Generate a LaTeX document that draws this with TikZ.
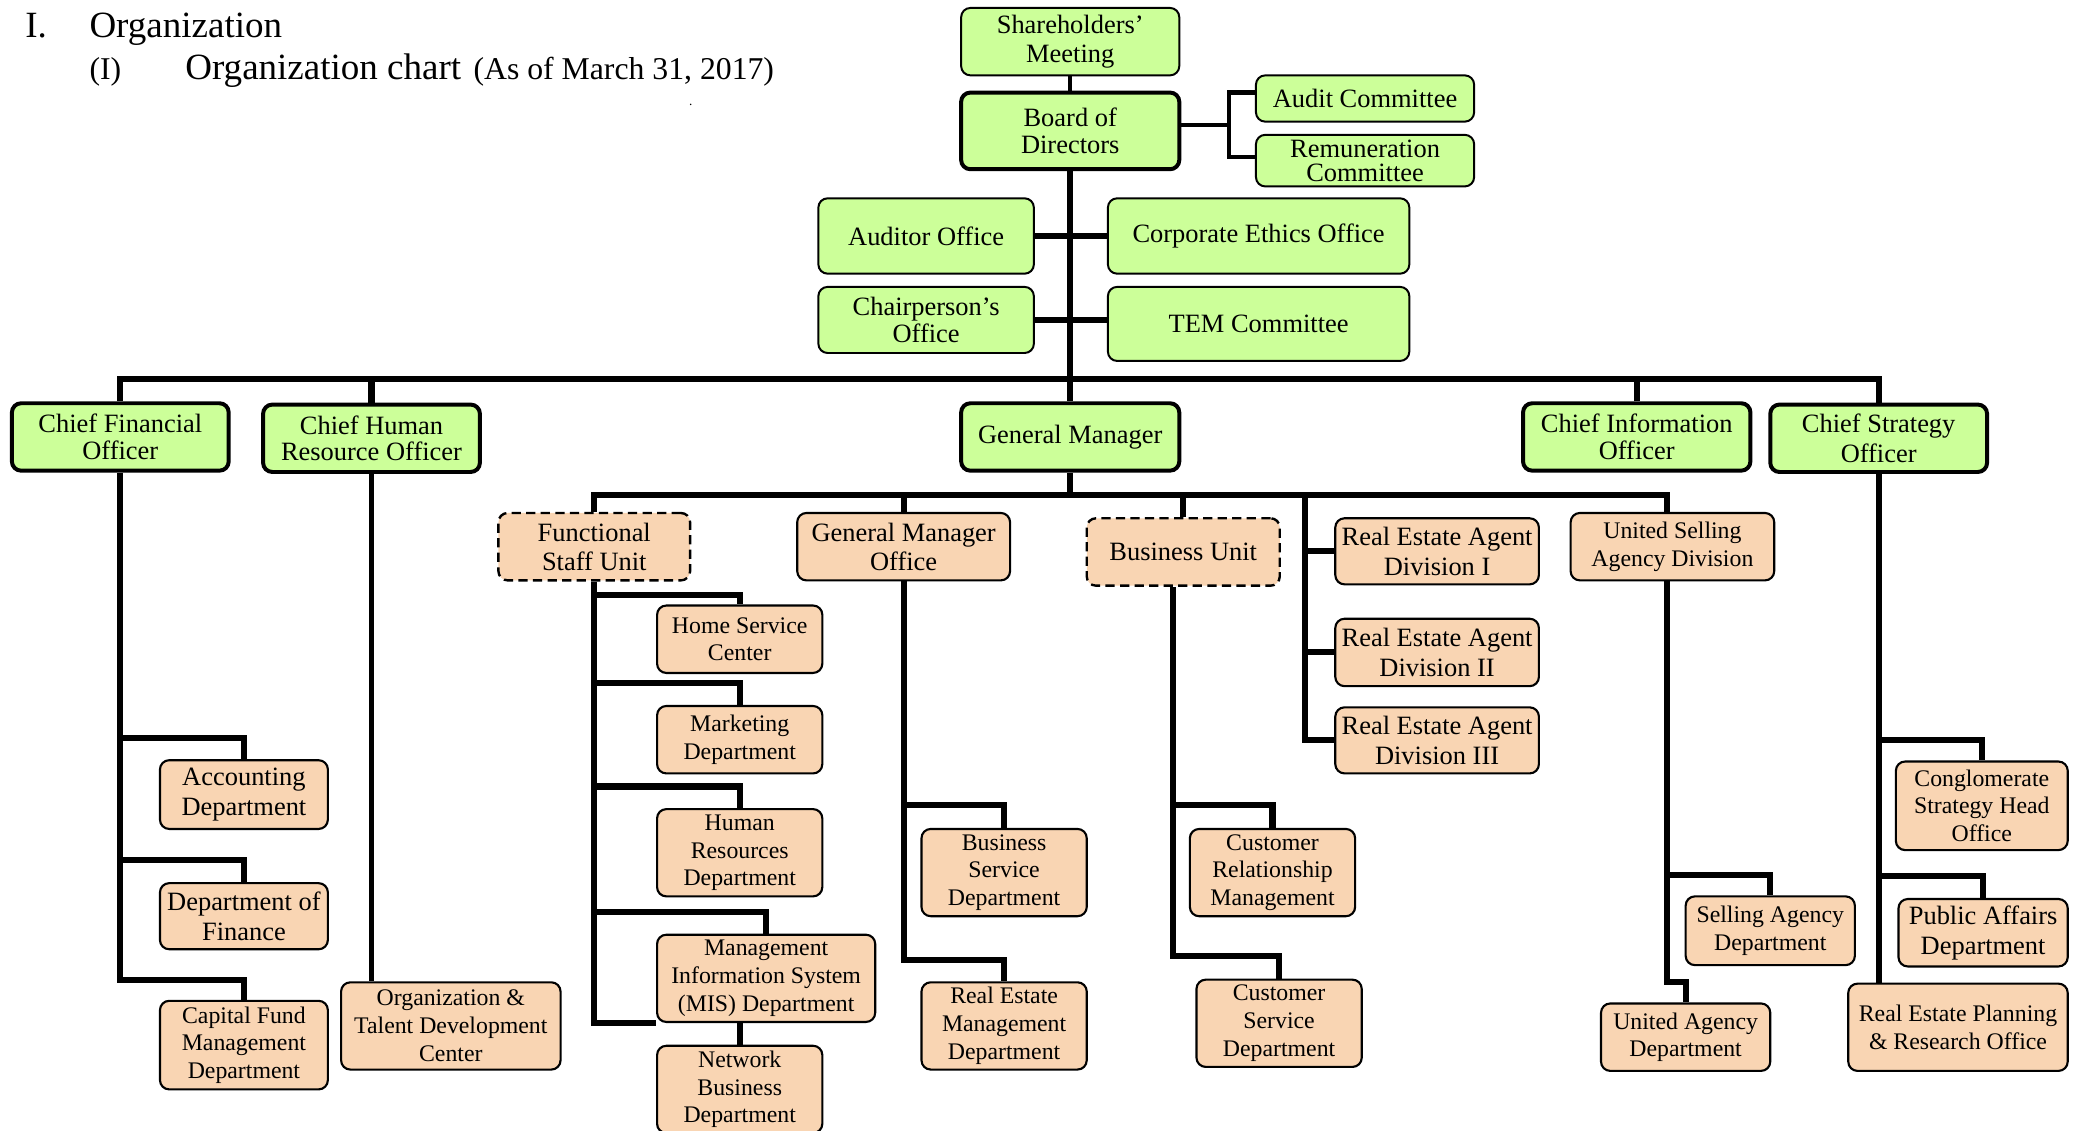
\documentclass[tikz,border=0pt]{standalone}
\usepackage{fontspec}
\setmainfont{Liberation Serif}
\usetikzlibrary{calc}
\pgfdeclarelayer{bg}
\pgfsetlayers{bg,main}
\definecolor{lgreen}{HTML}{CCFF99}
\definecolor{peach}{HTML}{F9D5B3}
\tikzset{
  box/.style={rounded corners=7pt, inner sep=0pt, align=center},
  fa/.style={font=\fontsize{20}{#1}\selectfont}, fa/.default=23,
  fb/.style={font=\fontsize{18}{#1}\selectfont}, fb/.default=21,
  gthin/.style={box, draw, fill=lgreen, line width=1.5pt, fa},
  gthick/.style={box, draw, fill=lgreen, line width=3pt, fa},
  obox/.style={box, draw, fill=peach, line width=1.6pt, fb},
  odash/.style={box, draw, fill=peach, line width=1.8pt, dash pattern=on 7pt off 4pt, fa=22},
  sz/.style n args={2}{minimum width=#1pt, minimum height=#2pt},
  conn/.style={line width=4.6pt, line join=miter},
  cmid/.style={line width=3.2pt, line join=miter},
}
\begin{document}
\begin{tikzpicture}[x=1pt, y=-1pt]
\useasboundingbox (0,0) rectangle (1568,855);

% title
\node[anchor=base west, inner sep=0pt, font=\fontsize{28}{34}\selectfont] (t1) at (19,28) {I.};
\node[anchor=base west, inner sep=0pt, font=\fontsize{28}{34}\selectfont] (t2) at (67.5,28) {Organization};
\node[anchor=base west, inner sep=0pt, font=\fontsize{24}{28}\selectfont] (t3) at (67.5,60) {(I)};
\node[anchor=base west, inner sep=0pt, font=\fontsize{28}{34}\selectfont] (t4) at (140,60) {Organization chart};
\node[anchor=base west, inner sep=0pt, font=\fontsize{24}{28}\selectfont] (t5) at (358,60) {(As of March 31, 2017)};
\node[inner sep=0pt, font=\fontsize{10}{10}\selectfont] (dot) at (522.5,79) {.};

% green boxes
\node[gthin, sz={165}{51}, fa=24] (sh) at (809.5,31.5) {\raisebox{-2pt}{Shareholders’}\\Meeting};
\node[gthick, sz={165}{58}, fa=20] (bd) at (809.5,99) {Board of\\Directors};
\node[gthin, sz={165}{35}] (ac) at (1032.5,74.5) {Audit Committee};
\node[gthin, sz={165}{39}, fa=18] (rc) at (1032.5,121.5) {Remuneration\\Committee};
\node[gthin, sz={163}{57}] (ao) at (700.5,178.5) {Auditor Office};
\node[gthin, sz={228}{57}] (ceo) at (952,178.5) {Corporate Ethics Office};
\node[gthin, sz={163}{50}, fa=21] (cpo) at (700.5,242) {Chairperson’s\\Office};
\node[gthin, sz={228}{56}] (tem) at (952,245) {TEM Committee};
\node[gthick, sz={164}{51}, fa=20] (cfo) at (91,330.5) {Chief Financial\\Officer};
\node[gthick, sz={164}{51}, fa=20] (chro) at (281,331.5) {Chief Human\\Resource Officer};
\node[gthick, sz={165}{51}] (gm) at (809.5,330.5) {General Manager};
\node[gthick, sz={172}{51}, fa=20] (cio) at (1238,330.5) {Chief Information\\Officer};
\node[gthick, sz={164}{51}] (cso) at (1421,331.5) {Chief Strategy\\Officer};

% orange boxes
\node[odash, sz={145}{51}] (fsu) at (449.5,413.5) {Functional\\Staff Unit};
\node[obox, fa=22, sz={161}{51}] (gmo) at (683.5,413.5) {General Manager\\Office};
\node[odash, sz={146}{51}] (bu) at (895,417.5) {Business Unit};
\node[obox, fa, sz={154}{50}] (rea1) at (1087,417) {Real Estate Agent\\Division I};
\node[obox, fa, sz={154}{51}] (rea2) at (1087,493.5) {Real Estate Agent\\Division II};
\node[obox, fa, sz={154}{50}] (rea3) at (1087,560) {Real Estate Agent\\Division III};
\node[obox, sz={154}{51}] (usad) at (1265,413.5) {United Selling\\Agency Division};

\node[obox, sz={125}{51}] (hsc) at (559.5,483.5) {Home Service\\Center};
\node[obox, sz={125}{51}] (mkt) at (559.5,559.5) {Marketing\\Department};
\node[obox, sz={125}{66}] (hrd) at (559.5,645) {Human\\Resources\\Department};
\node[obox, sz={165}{66}] (mis) at (579.5,740) {Management\\Information System\\(MIS) Department};
\node[obox, sz={125}{66}] (nbd) at (559.5,824) {Network\\Business\\Department};

\node[obox, sz={125}{66}] (bsd) at (759.5,660) {Business\\Service\\Department};
\node[obox, sz={125}{66}] (remd) at (759.5,776) {Real Estate\\Management\\Department};
\node[obox, sz={125}{66}] (crm) at (962.5,660) {Customer\\Relationship\\Management};
\node[obox, sz={125}{66}] (csd) at (967.5,774) {Customer\\Service\\Department};

\node[obox, sz={128}{52}] (sad) at (1339,704) {Selling Agency\\Department};
\node[obox, sz={128}{51}] (uad) at (1275,784.5) {United Agency\\Department};
\node[obox, sz={130}{67}] (csho) at (1499,609.5) {Conglomerate\\Strategy Head\\Office};
\node[obox, fa, sz={128}{51}] (pad) at (1500,705.5) {Public Affairs\\Department};
\node[obox, sz={166}{66}] (rep) at (1481,777) {Real Estate Planning\\\& Research Office};

\node[obox, fa, sz={127}{52}] (acc) at (184.5,601) {Accounting\\Department};
\node[obox, fa, sz={127}{50}] (dof) at (184.5,693) {Department of\\Finance};
\node[obox, sz={127}{67}] (cfmd) at (184.5,790.5) {Capital Fund\\Management\\Department};
\node[obox, sz={166}{66}] (otdc) at (341,776) {Organization \&\\Talent Development\\Center};

% connectors
\begin{pgfonlayer}{bg}
\draw[cmid] (sh.south) -- (bd.north);
\coordinate (bdj) at ($(bd.east)+(36,-4.5)$);
\draw[cmid] ($(bd.east)+(0,-4.5)$) -- (bdj);
\draw[cmid] ($(ac.west)+(0,-4.5)$) -| (bdj) |- ($(rc.west)+(0,-2.5)$);
\draw[conn] (bd.south) -- (gm.north);
\draw[conn] (ao.east) -- (ceo.west);
\draw[conn] (cpo.east) -- (cpo.east -| tem.west);

\coordinate (bus) at ($(gm.north)+(0,-17)$);
\draw[conn] (cfo.north) -- (cfo.north |- bus) -- (cso.north |- bus) -- (cso.north);
\draw[conn] (chro.north) -- (chro.north |- bus);
\draw[conn] (cio.north) -- (cio.north |- bus);

\coordinate (gbus) at ($(gm.south)+(0,17)$);
\coordinate (usadn) at ($(usad.north)+(-4,0)$);
\draw[conn] (gm.south) -- (gbus);
\draw[conn] (fsu.north) -- (fsu.north |- gbus) -- (usadn |- gbus) -- (usadn);
\draw[conn] (gmo.north) -- (gmo.north |- gbus);
\draw[conn] (bu.north) -- (bu.north |- gbus);
\coordinate (reav) at ($(rea1.west)+(-22,0)$);
\draw[conn] (reav |- gbus) |- (rea3.west);
\draw[conn] (reav) -- (rea1.west);
\draw[conn] (reav |- rea2.west) -- (rea2.west);

\draw[conn] (fsu.south) -- (fsu.south |- mis.south) -- (mis.south west);
\draw[conn] (fsu.south) ++(0,10) -| (hsc.north);
\draw[conn] (fsu.south) ++(0,77) -| (mkt.north);
\draw[conn] (fsu.south) ++(0,155) -| (hrd.north);
\draw[conn] (fsu.south) ++(0,250) -| (mis.north);
\draw[conn] (nbd.north |- mis.south) -- (nbd.north);

\draw[conn] (gmo.south) -- ++(0,286) -| (remd.north);
\draw[conn] (gmo.south) ++(0,169) -| (bsd.north);

\draw[conn] ($(bu.south)+(-8,0)$) -- ++(0,279) -| (csd.north);
\draw[conn] ($(bu.south)+(-8,165)$) -| (crm.north);

\draw[conn] ($(usad.south)+(-4,0)$) -- ++(0,303) -| (uad.north);
\draw[conn] ($(usad.south)+(-4,222)$) -| (sad.north);

\draw[conn] (cso.south) -- (cso.south |- rep.north);
\draw[conn] (cso.south) ++(0,201) -| (csho.north);
\draw[conn] (cso.south) ++(0,304) -| (pad.north);

\draw[conn] (cfo.south) -- ++(0,384) -| (cfmd.north);
\draw[conn] (cfo.south) ++(0,201) -| (acc.north);
\draw[conn] (cfo.south) ++(0,293) -| (dof.north);

\draw[cmid] (chro.south) -- (chro.south |- otdc.north);
\end{pgfonlayer}
\end{tikzpicture}
\end{document}
